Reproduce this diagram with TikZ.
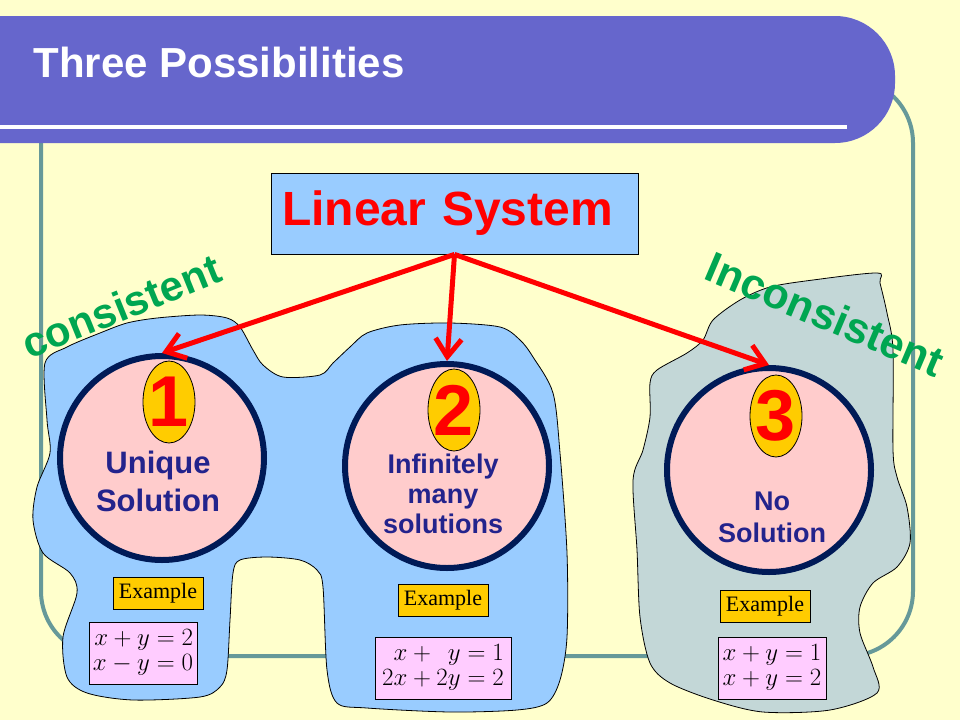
\documentclass[tikz,border=0pt]{standalone}
\usepackage{amsmath}
\usepackage{fontspec}
\setmainfont{Liberation Serif}
\setsansfont{Liberation Sans}
\usetikzlibrary{arrows.meta,shapes}
\definecolor{bgyellow}{HTML}{FFFFCC}
\definecolor{bannerblue}{HTML}{6666CC}
\definecolor{framegray}{HTML}{669999}
\definecolor{boxblue}{HTML}{99CCFF}
\definecolor{blobgray}{HTML}{C3D7D7}
\definecolor{casepink}{HTML}{FFCCCC}
\definecolor{casenavy}{HTML}{001A57}
\definecolor{textnavy}{HTML}{23238C}
\definecolor{numyellow}{HTML}{FFCC00}
\definecolor{eqpink}{HTML}{FFCCFF}
\definecolor{taggreen}{HTML}{00A651}
\setlength{\jot}{0pt}
\tikzset{
    %Define standard arrow tip
    >={Straight Barb[length=18pt,width=26pt]},
    %Define style for boxes
    sysnode/.style={
             rectangle,
             draw=black, line width=0.8pt,
             fill=boxblue,
             minimum height=81pt,
             text width=345pt, inner xsep=11pt,
             align=left,
             text=red,
             font=\sffamily\bfseries\fontsize{48}{48}\selectfont},
    casenode/.style={
             circle,
             draw=casenavy, line width=6pt,
             fill=casepink,
             minimum size=204pt, inner sep=0pt},
    numnode/.style={
             ellipse,
             draw=black, line width=0.8pt,
             fill=numyellow,
             minimum width=52pt, minimum height=82pt, inner sep=0pt,
             text=red,
             font=\sffamily\bfseries\fontsize{72}{72}\selectfont},
    casetext/.style={
             align=center,
             text=textnavy,
             font=\sffamily\bfseries\fontsize{27}{30}\selectfont},
    exnode/.style={
             rectangle,
             draw=black, line width=0.8pt,
             fill=numyellow,
             minimum width=90pt, minimum height=32pt, inner sep=0pt,
             font=\rmfamily\fontsize{22}{22}\selectfont},
    eqnode/.style={
             rectangle,
             draw=black, line width=0.8pt,
             fill=eqpink,
             minimum height=62pt, inner sep=0pt,
             font=\fontsize{24}{25}\selectfont},
    tagnode/.style={
             text=taggreen,
             font=\sffamily\bfseries\fontsize{42}{42}\selectfont},
    blob/.style={
             draw=black, line width=0.8pt},
    % Define arrow style
    casearrow/.style={
            ->,
            draw=red,
            line width=5pt}
}
\begin{document}
\begin{tikzpicture}[x=1pt, y=-1pt]
 \useasboundingbox[fill=bgyellow] (0,0) rectangle (960,720);
 \draw[framegray, line width=4pt, rounded corners=65pt] (41,78) rectangle (913,656);
 \fill[bannerblue, rounded corners=60pt] (-100,16) rectangle (895,143);
 \draw[white, line width=4pt] (0,127) -- (847,127);
 \node[anchor=base west, text=white, font=\sffamily\bfseries\fontsize{42}{42}\selectfont] (title) at (30,77) {Three Possibilities};
 % blobs
 \draw[blob, fill=boxblue] plot[smooth cycle, tension=0.5] coordinates {
   (45,363) (67,347) (100,333) (127,323) (157,318) (200,315) (227,318) (240,327)
   (253,350) (263,365) (283,377) (320,375) (333,363) (350,347) (367,333) (400,325)
   (450,323) (500,327) (520,340) (533,357) (553,393) (560,453) (567,553) (567,637)
   (560,680) (547,703) (517,710) (450,712) (367,708) (337,703) (327,670) (323,587)
   (317,570) (300,560) (267,557) (240,560) (233,573) (230,620) (227,670) (220,687)
   (200,697) (133,700) (87,693) (67,677) (63,637) (77,593) (70,573) (43,553)
   (33,520) (37,487) (50,453) (47,420)};
 \draw[blob, fill=blobgray] plot[smooth cycle, tension=0.5] coordinates {
   (877,273) (813,280) (770,287) (740,300) (713,320) (703,340) (687,353) (657,370)
   (650,383) (650,417) (643,450) (633,480) (637,550) (640,617) (650,663) (670,683)
   (713,700) (763,712) (830,710) (877,693) (873,667) (860,633) (860,607) (873,583)
   (897,567) (910,543) (907,507) (897,477) (893,450) (893,350) (887,313) (880,283)};
 \node[sysnode] (sys) at (454.5,213.5) {Linear System};
 \node[tagnode, rotate=22] (cons) at (121,306) {consistent};
 \node[tagnode, rotate=-23, font=\sffamily\bfseries\fontsize{43}{43}\selectfont] (incons) at (825,314) {Inconsistent};
 % three cases
 \node[casenode] (c1) at (162,458) {};
 \node[casenode] (c2) at (447,466) {};
 \node[casenode] (c3) at (769,470) {};
 \node[numnode] (n1) at (169,402) {\makebox[0pt]{1}};
 \node[numnode] (n2) at (454,410) {\makebox[0pt]{2}};
 \node[numnode] (n3) at (776,416) {\makebox[0pt]{3}};
 \node[casetext, font=\sffamily\bfseries\fontsize{31}{38}\selectfont] (t1) at (158,481) {Unique\\Solution};
 \node[casetext] (t2) at (443,494) {Infinitely\\many\\solutions};
 \node[casetext, font=\sffamily\bfseries\fontsize{27}{32}\selectfont] (t3) at (772,517) {No\\Solution};
 \node[exnode] (ex1) at (158,593) {Example};
 \node[exnode] (ex2) at (443,600) {Example};
 \node[exnode] (ex3) at (765,606) {Example};
 \node[eqnode, minimum width=108pt] (eq1) at (143,653) {$\begin{aligned} x+y&=2\\ x-y&=0\end{aligned}$};
 \node[eqnode, minimum width=136pt] (eq2) at (443,668) {$\begin{aligned} x+\phantom{2}y&=1\\ 2x+2y&=2\end{aligned}$};
 \node[eqnode, minimum width=108pt] (eq3) at (772,668) {$\begin{aligned} x+y&=1\\ x+y&=2\end{aligned}$};
 \path (sys.south) edge[casearrow] (c1.north)
       (sys.south) edge[casearrow] (c2.north)
       (sys.south) edge[casearrow] (c3.north);
\end{tikzpicture}
\end{document}
